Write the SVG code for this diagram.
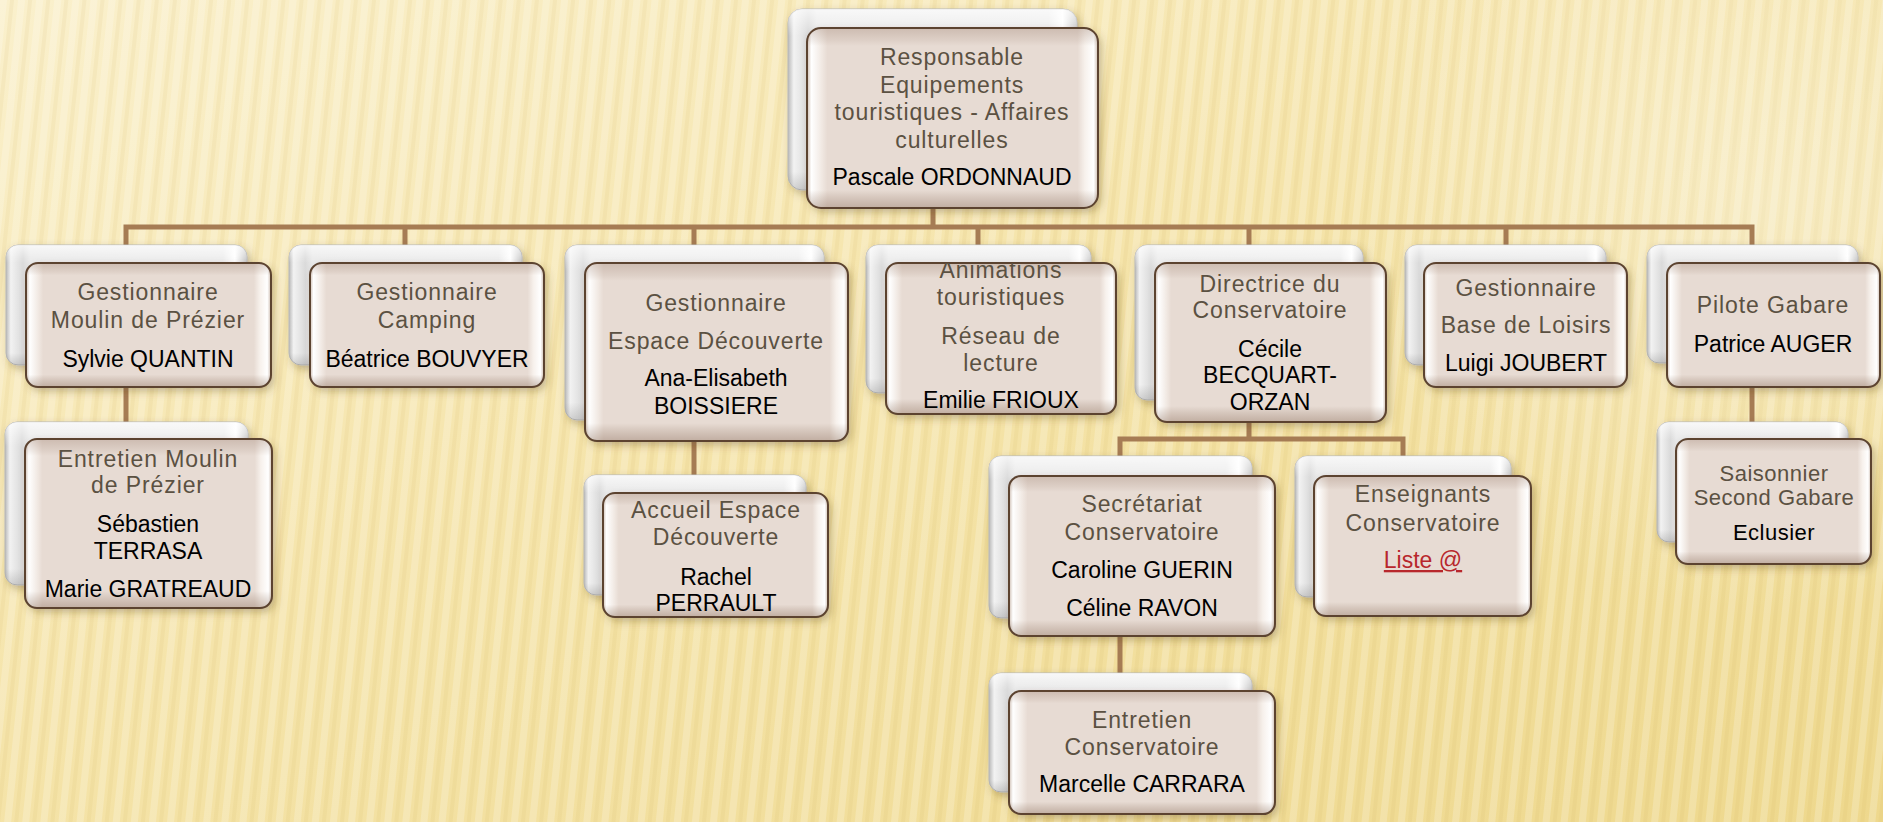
<svg xmlns="http://www.w3.org/2000/svg" width="1883" height="822" viewBox="0 0 1883 822">
<defs>
<linearGradient id="bg" x1="0" y1="0" x2="1" y2="1">
<stop offset="0" stop-color="#FAF0CC"/>
<stop offset="0.45" stop-color="#F5E4AA"/>
<stop offset="1" stop-color="#EED88D"/>
</linearGradient>
<radialGradient id="glow" cx="1760" cy="200" r="420" gradientUnits="userSpaceOnUse">
<stop offset="0" stop-color="#FFFFFF" stop-opacity="0.35"/>
<stop offset="0.6" stop-color="#FFFFFF" stop-opacity="0.15"/>
<stop offset="1" stop-color="#FFFFFF" stop-opacity="0"/>
</radialGradient>
<pattern id="stripes" width="18" height="200" patternUnits="userSpaceOnUse" patternTransform="rotate(6)">
<rect x="0" y="0" width="7" height="200" fill="#FFFFFF" fill-opacity="0.2"/>
<rect x="10" y="0" width="4" height="200" fill="#C9A850" fill-opacity="0.09"/>
</pattern>
<linearGradient id="backH" x1="0" y1="0" x2="1" y2="0">
<stop offset="0" stop-color="#B9B9B9"/>
<stop offset="0.02" stop-color="#F2F2F2"/>
<stop offset="0.07" stop-color="#DADADA"/>
<stop offset="0.1" stop-color="#E9E9E9"/>
<stop offset="0.9" stop-color="#ECECEC"/>
<stop offset="0.95" stop-color="#FFFFFF"/>
<stop offset="1" stop-color="#C4C4C4"/>
</linearGradient>
<linearGradient id="backV" x1="0" y1="0" x2="0" y2="1">
<stop offset="0" stop-color="#FFFFFF" stop-opacity="0.7"/>
<stop offset="0.1" stop-color="#FFFFFF" stop-opacity="0.2"/>
<stop offset="0.15" stop-color="#FFFFFF" stop-opacity="0"/>
<stop offset="0.9" stop-color="#808080" stop-opacity="0"/>
<stop offset="1" stop-color="#808080" stop-opacity="0.3"/>
</linearGradient>
<linearGradient id="frontH" x1="0" y1="0" x2="1" y2="0">
<stop offset="0" stop-color="#CDBCB0"/>
<stop offset="0.015" stop-color="#FFFFFF"/>
<stop offset="0.05" stop-color="#F1E9E3"/>
<stop offset="0.07" stop-color="#E7DBD3"/>
<stop offset="0.93" stop-color="#E7DBD3"/>
<stop offset="0.955" stop-color="#F7F1EC"/>
<stop offset="0.985" stop-color="#FFFFFF"/>
<stop offset="1" stop-color="#CDBCB0"/>
</linearGradient>
<linearGradient id="frontV" x1="0" y1="0" x2="0" y2="1">
<stop offset="0" stop-color="#9C8070" stop-opacity="0.35"/>
<stop offset="0.07" stop-color="#9C8070" stop-opacity="0.12"/>
<stop offset="0.1" stop-color="#9C8070" stop-opacity="0"/>
<stop offset="0.9" stop-color="#7A5A45" stop-opacity="0"/>
<stop offset="0.94" stop-color="#7A5A45" stop-opacity="0.15"/>
<stop offset="1" stop-color="#7A5A45" stop-opacity="0.35"/>
</linearGradient>
<filter id="sh" x="-10%" y="-10%" width="125%" height="130%">
<feDropShadow dx="3" dy="4" stdDeviation="4" flood-color="#5A4020" flood-opacity="0.35"/>
</filter>
<clipPath id="clipN4"><rect x="886" y="263" width="230" height="151" rx="12"/></clipPath>
</defs>
<style>
.back{fill:url(#backH);stroke:#B8B8B8;stroke-width:1;filter:url(#sh)}
.backv{fill:url(#backV);stroke:none}
.front{fill:url(#frontH);stroke:none;filter:url(#sh)}
.frontv{fill:url(#frontV);stroke:#5C4330;stroke-width:2}
.t{font-family:"Liberation Sans",Arial,sans-serif;font-size:23px;fill:#5B5142;text-anchor:middle;letter-spacing:0.9px}
.n{font-family:"Liberation Sans",Arial,sans-serif;font-size:23px;fill:#000000;text-anchor:middle}
.s{font-size:22px;letter-spacing:0.5px}
.link{fill:#B8272C;text-decoration:underline}
.c{fill:none;stroke:#A67C54;stroke-width:5;stroke-linecap:square}
</style>

<rect width="1883" height="822" fill="url(#bg)"/>
<rect width="1883" height="822" fill="url(#stripes)"/>
<rect width="1883" height="822" fill="url(#glow)"/>

<g id="connectors">
<path class="c" d="M933 208V227M126 227H1752M126 227V245M405 227V245M694 227V245M978 227V245M1249 227V245M1506 227V245M1752 227V245"/>
<path class="c" d="M126 387V422M694 441V475M1249 422V439M1120 439H1403M1120 439V456M1403 439V456M1120 636V673M1752 387V422"/>
</g>

<g id="node-top">
<rect class="back" x="788" y="9" width="289" height="181" rx="14"/>
<rect class="backv" x="788" y="9" width="289" height="181" rx="14"/>
<rect class="front" x="807" y="28" width="291" height="180" rx="14"/>
<rect class="frontv" x="807" y="28" width="291" height="180" rx="14"/>
<text class="t" x="952" y="65">Responsable</text>
<text class="t" x="952" y="93">Equipements</text>
<text class="t" x="952" y="120">touristiques - Affaires</text>
<text class="t" x="952" y="148">culturelles</text>
<text class="n" x="952" y="185">Pascale ORDONNAUD</text>
</g>

<g id="node-moulin">
<rect class="back" x="6" y="245" width="241" height="120" rx="12"/>
<rect class="backv" x="6" y="245" width="241" height="120" rx="12"/>
<rect class="front" x="26" y="263" width="245" height="124" rx="12"/>
<rect class="frontv" x="26" y="263" width="245" height="124" rx="12"/>
<text class="t" x="148" y="300">Gestionnaire</text>
<text class="t" x="148" y="328">Moulin de Prézier</text>
<text class="n" x="148" y="367">Sylvie QUANTIN</text>
</g>

<g id="node-camping">
<rect class="back" x="289" y="245" width="233" height="120" rx="12"/>
<rect class="backv" x="289" y="245" width="233" height="120" rx="12"/>
<rect class="front" x="310" y="263" width="234" height="124" rx="12"/>
<rect class="frontv" x="310" y="263" width="234" height="124" rx="12"/>
<text class="t" x="427" y="300">Gestionnaire</text>
<text class="t" x="427" y="328">Camping</text>
<text class="n" x="427" y="367">Béatrice BOUVYER</text>
</g>

<g id="node-espace">
<rect class="back" x="565" y="245" width="259" height="175" rx="12"/>
<rect class="backv" x="565" y="245" width="259" height="175" rx="12"/>
<rect class="front" x="585" y="263" width="263" height="178" rx="12"/>
<rect class="frontv" x="585" y="263" width="263" height="178" rx="12"/>
<text class="t" x="716" y="311">Gestionnaire</text>
<text class="t" x="716" y="349">Espace Découverte</text>
<text class="n" x="716" y="386">Ana-Elisabeth</text>
<text class="n" x="716" y="414">BOISSIERE</text>
</g>

<g id="node-animations">
<rect class="back" x="866" y="245" width="225" height="148" rx="12"/>
<rect class="backv" x="866" y="245" width="225" height="148" rx="12"/>
<rect class="front" x="886" y="263" width="230" height="151" rx="12"/>
<rect class="frontv" x="886" y="263" width="230" height="151" rx="12"/>
<g clip-path="url(#clipN4)">
<text class="t" x="1001" y="278">Animations</text>
<text class="t" x="1001" y="305">touristiques</text>
<text class="t" x="1001" y="344">Réseau de</text>
<text class="t" x="1001" y="371">lecture</text>
<text class="n" x="1001" y="408">Emilie FRIOUX</text>
</g>
</g>

<g id="node-conservatoire">
<rect class="back" x="1135" y="245" width="228" height="155" rx="12"/>
<rect class="backv" x="1135" y="245" width="228" height="155" rx="12"/>
<rect class="front" x="1155" y="263" width="231" height="159" rx="12"/>
<rect class="frontv" x="1155" y="263" width="231" height="159" rx="12"/>
<text class="t" x="1270" y="292">Directrice du</text>
<text class="t" x="1270" y="318">Conservatoire</text>
<text class="n" x="1270" y="357">Cécile</text>
<text class="n" x="1270" y="383">BECQUART-</text>
<text class="n" x="1270" y="410">ORZAN</text>
</g>

<g id="node-loisirs">
<rect class="back" x="1405" y="245" width="201" height="120" rx="12"/>
<rect class="backv" x="1405" y="245" width="201" height="120" rx="12"/>
<rect class="front" x="1424" y="263" width="203" height="124" rx="12"/>
<rect class="frontv" x="1424" y="263" width="203" height="124" rx="12"/>
<text class="t" x="1526" y="296">Gestionnaire</text>
<text class="t" x="1526" y="333">Base de Loisirs</text>
<text class="n" x="1526" y="371">Luigi JOUBERT</text>
</g>

<g id="node-gabare">
<rect class="back" x="1647" y="245" width="211" height="118" rx="12"/>
<rect class="backv" x="1647" y="245" width="211" height="118" rx="12"/>
<rect class="front" x="1667" y="263" width="213" height="124" rx="12"/>
<rect class="frontv" x="1667" y="263" width="213" height="124" rx="12"/>
<text class="t" x="1773" y="313">Pilote Gabare</text>
<text class="n" x="1773" y="352">Patrice AUGER</text>
</g>

<g id="node-entretien-moulin">
<rect class="back" x="5" y="422" width="243" height="163" rx="12"/>
<rect class="backv" x="5" y="422" width="243" height="163" rx="12"/>
<rect class="front" x="25" y="439" width="247" height="169" rx="12"/>
<rect class="frontv" x="25" y="439" width="247" height="169" rx="12"/>
<text class="t" x="148" y="467">Entretien Moulin</text>
<text class="t" x="148" y="493">de Prézier</text>
<text class="n" x="148" y="532">Sébastien</text>
<text class="n" x="148" y="559">TERRASA</text>
<text class="n" x="148" y="597">Marie GRATREAUD</text>
</g>

<g id="node-accueil">
<rect class="back" x="584" y="475" width="222" height="120" rx="12"/>
<rect class="backv" x="584" y="475" width="222" height="120" rx="12"/>
<rect class="front" x="603" y="493" width="225" height="124" rx="12"/>
<rect class="frontv" x="603" y="493" width="225" height="124" rx="12"/>
<text class="t" x="716" y="518">Accueil Espace</text>
<text class="t" x="716" y="545">Découverte</text>
<text class="n" x="716" y="585">Rachel</text>
<text class="n" x="716" y="611">PERRAULT</text>
</g>

<g id="node-secretariat">
<rect class="back" x="989" y="456" width="263" height="162" rx="12"/>
<rect class="backv" x="989" y="456" width="263" height="162" rx="12"/>
<rect class="front" x="1009" y="476" width="266" height="160" rx="12"/>
<rect class="frontv" x="1009" y="476" width="266" height="160" rx="12"/>
<text class="t" x="1142" y="512">Secrétariat</text>
<text class="t" x="1142" y="540">Conservatoire</text>
<text class="n" x="1142" y="578">Caroline GUERIN</text>
<text class="n" x="1142" y="616">Céline RAVON</text>
</g>

<g id="node-enseignants">
<rect class="back" x="1295" y="456" width="216" height="141" rx="12"/>
<rect class="backv" x="1295" y="456" width="216" height="141" rx="12"/>
<rect class="front" x="1314" y="476" width="217" height="140" rx="12"/>
<rect class="frontv" x="1314" y="476" width="217" height="140" rx="12"/>
<text class="t" x="1423" y="502">Enseignants</text>
<text class="t" x="1423" y="531">Conservatoire</text>
<text class="n link" x="1423" y="568">Liste @</text>
</g>

<g id="node-entretien-conservatoire">
<rect class="back" x="989" y="673" width="263" height="119" rx="12"/>
<rect class="backv" x="989" y="673" width="263" height="119" rx="12"/>
<rect class="front" x="1009" y="691" width="266" height="123" rx="12"/>
<rect class="frontv" x="1009" y="691" width="266" height="123" rx="12"/>
<text class="t" x="1142" y="728">Entretien</text>
<text class="t" x="1142" y="755">Conservatoire</text>
<text class="n" x="1142" y="792">Marcelle CARRARA</text>
</g>

<g id="node-saisonnier">
<rect class="back" x="1657" y="422" width="191" height="120" rx="12"/>
<rect class="backv" x="1657" y="422" width="191" height="120" rx="12"/>
<rect class="front" x="1676" y="439" width="195" height="125" rx="12"/>
<rect class="frontv" x="1676" y="439" width="195" height="125" rx="12"/>
<text class="t s" x="1774" y="481">Saisonnier</text>
<text class="t s" x="1774" y="505">Second Gabare</text>
<text class="n s" x="1774" y="540">Eclusier</text>
</g>
</svg>
